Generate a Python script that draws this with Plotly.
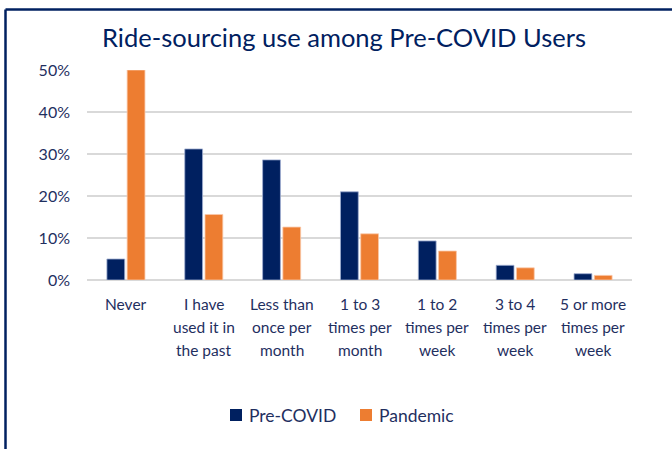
import plotly.graph_objects as go

categories = ["Never", "I have<br>used it in<br>the past", "Less than<br>once per<br>month",
              "1 to 3<br>times per<br>month", "1 to 2<br>times per<br>week",
              "3 to 4<br>times per<br>week", "5 or more<br>times per<br>week"]
pre_covid = [0.050, 0.312, 0.286, 0.210, 0.093, 0.035, 0.015]
pandemic = [0.500, 0.156, 0.126, 0.110, 0.069, 0.029, 0.011]
y_ticks = [0, 0.1, 0.2, 0.3, 0.4, 0.5]
series_names = ["Pre-COVID", "Pandemic"]

NAVY = "#002060"
ORANGE = "#ED7D31"
TEXT = "#1F2F5F"
FONT = "Lato"

fig = go.Figure()
fig.add_trace(go.Bar(x=categories, y=pre_covid, name=series_names[0],
                     marker=dict(color=NAVY, line=dict(color="rgba(160,175,210,0.8)", width=1))))
fig.add_trace(go.Bar(x=categories, y=pandemic, name=series_names[1],
                     marker=dict(color=ORANGE, line=dict(color="rgba(250,200,170,0.8)", width=1))))

L, R, T, B = 87, 40, 70, 169
W, H = 672, 449
pw, ph = W - L - R, H - T - B

def px(x):
    return (x - L) / pw

def py(y):
    return (H - B - y) / ph

annotations = []
line_y = [304, 327, 350]
for cat in categories:
    for i, line in enumerate(cat.split("<br>")):
        annotations.append(dict(x=cat, xref="x", y=py(line_y[i]), yref="paper", text=line,
                                showarrow=False, xanchor="center", yanchor="middle",
                                font=dict(size=15.5, color=TEXT, family=FONT)))

# legend (drawn as swatches + labels)
legend_items = [(series_names[0], NAVY, 230), (series_names[1], ORANGE, 360)]
shapes = [
    dict(type="line", xref="paper", yref="paper", x0=px(5.5), x1=px(5.5), y0=py(9.5), y1=py(449),
         line=dict(color=NAVY, width=2.5)),
    dict(type="line", xref="paper", yref="paper", x0=px(5.5), x1=px(672), y0=py(9.5), y1=py(9.5),
         line=dict(color=NAVY, width=2.5)),
]
for name, color, x0 in legend_items:
    shapes.append(dict(type="rect", xref="paper", yref="paper", x0=px(x0), x1=px(x0 + 12),
                       y0=py(421), y1=py(409), fillcolor=color, line=dict(width=0)))
    annotations.append(dict(x=px(x0 + 17), xref="paper", y=py(415), yref="paper", text=name,
                            showarrow=False, xanchor="left", yanchor="middle",
                            font=dict(size=17.5, color=TEXT, family=FONT)))

fig.update_layout(
    width=W, height=H,
    margin=dict(l=L, r=R, t=T, b=B),
    paper_bgcolor="white", plot_bgcolor="white",
    barmode="group", bargap=0.48, bargroupgap=0.12,
    font=dict(family=FONT, color=TEXT),
    title=dict(text="Ride-sourcing use among Pre-COVID Users", x=344 / W, xanchor="center",
               y=1 - 38 / H, yanchor="middle", yref="container",
               font=dict(size=25.5, color=NAVY, family=FONT)),
    showlegend=False,
    shapes=shapes,
    annotations=annotations,
)
fig.update_yaxes(range=[0, 0.5], tickvals=y_ticks, tickformat=".0%", showgrid=True,
                 gridcolor="#D9D9D9", gridwidth=2, zeroline=True, zerolinecolor="#D9D9D9",
                 zerolinewidth=2, showline=False, ticks="", ticklabelstandoff=16,
                 tickfont=dict(size=16, color=TEXT, family=FONT))
fig.update_xaxes(showline=False, ticks="", showticklabels=False)

fig.write_html("out.html", config={"displayModeBar": False},
               post_script="document.body.style.margin='0px';")
